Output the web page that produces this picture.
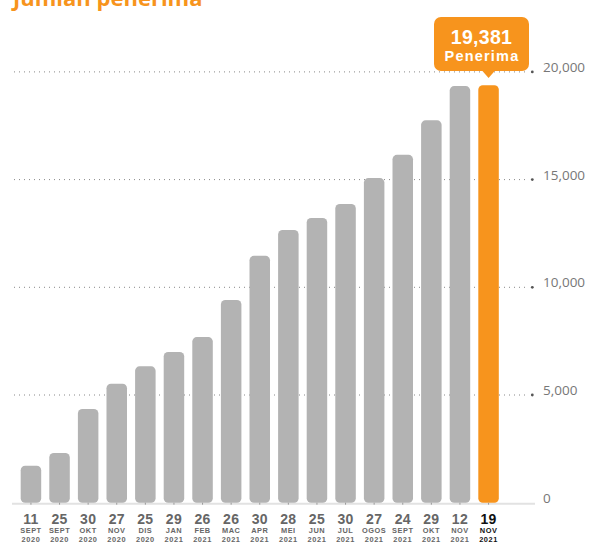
<!DOCTYPE html>
<html>
<head>
<meta charset="utf-8">
<script src="https://cdn.jsdelivr.net/npm/d3@7"></script>
<style>
  body { margin: 0; background: #fff; }
  svg { display: block; font-family: "Open Sans", sans-serif; }
</style>
</head>
<body>
<script>
const days = ["11", "25", "30", "27", "25", "29", "26", "26", "30", "28", "25", "30", "27", "24", "29", "12", "19"];
const months = ["SEPT", "SEPT", "OKT", "NOV", "DIS", "JAN", "FEB", "MAC", "APR", "MEI", "JUN", "JUL", "OGOS", "SEPT", "OKT", "NOV", "NOV"];
const years = ["2020", "2020", "2020", "2020", "2020", "2021", "2021", "2021", "2021", "2021", "2021", "2021", "2021", "2021", "2021", "2021", "2021"];
const recipients = [1720, 2310, 4350, 5520, 6330, 7000, 7690, 9410, 11460, 12660, 13220, 13870, 15070, 16150, 17750, 19340, 19381];
const yTicks = [0, 5000, 10000, 15000, 20000];

let width = 595,
  height = 547;

let data = recipients.map(function(v, i) {
  return { key: i, day: days[i], month: months[i], year: years[i], value: v };
});
let last = data.length - 1;

let x = d3
  .scaleBand()
  .domain(data.map(d => d.key))
  .range([12.6, 506.9])
  .padding(0.283);

let y = d3
  .scaleLinear()
  .domain([0, 20000])
  .range([502.7, 71.9]);

let svg = d3
  .select("body")
  .append("svg")
  .attr("width", width)
  .attr("height", height);

// title, cut off by the top edge
svg.append("text")
  .attr("x", 13)
  .attr("y", 6)
  .style("font-size", "22px")
  .style("font-weight", "700")
  .style("fill", "#f7941d")
  .text("Jumlah penerima");

// dotted gridlines
let grid = svg.selectAll(".grid")
  .data(yTicks.slice(1))
  .enter()
  .append("g")
  .attr("class", "grid");

grid.append("line")
  .attr("x1", 14)
  .attr("x2", 529)
  .attr("y1", d => y(d))
  .attr("y2", d => y(d))
  .style("stroke", "#888")
  .style("stroke-width", 1)
  .style("stroke-dasharray", "1,4");

grid.append("circle")
  .attr("cx", 532.3)
  .attr("cy", d => y(d))
  .attr("r", 1.4)
  .style("fill", "#555");

// baseline
svg.append("line")
  .attr("x1", 12)
  .attr("x2", 535)
  .attr("y1", y(0) + 1)
  .attr("y2", y(0) + 1)
  .style("stroke", "#e2e2e2")
  .style("stroke-width", 2);

// y labels on the right
svg.selectAll(".ylabel")
  .data(yTicks)
  .enter()
  .append("text")
  .attr("class", "ylabel")
  .attr("x", 543)
  .attr("y", d => y(d))
  .style("font-size", "13.5px")
  .style("fill", "#777")
  .text(d => d3.format(",")(d));

// bars
svg.selectAll(".bar")
  .data(data)
  .enter()
  .append("rect")
  .attr("class", "bar")
  .attr("x", d => x(d.key))
  .attr("y", d => y(d.value))
  .attr("width", x.bandwidth())
  .attr("height", d => y(0) - y(d.value))
  .attr("rx", 4.5)
  .style("fill", d => d.key === last ? "#f7941d" : "#b3b3b3");

// small ticks under bars
svg.selectAll(".tick")
  .data(data)
  .enter()
  .append("line")
  .attr("x1", d => x(d.key) + x.bandwidth() / 2)
  .attr("x2", d => x(d.key) + x.bandwidth() / 2)
  .attr("y1", y(0))
  .attr("y2", y(0) + 2)
  .style("stroke", "#999")
  .style("stroke-width", 1);

// x labels: day / month / year (tighter font metrics so the rows don't collide)
let xlab = svg.selectAll(".xlabel")
  .data(data)
  .enter()
  .append("g")
  .attr("class", "xlabel")
  .attr("transform", d => "translate(" + (x(d.key) + x.bandwidth() / 2) + ",0)")
  .style("text-anchor", "middle")
  .style("font-family", "'Liberation Sans', Arial, sans-serif")
  .style("font-weight", "700")
  .style("fill", d => d.key === last ? "#111" : "#666");

xlab.append("text")
  .attr("y", 523.6)
  .style("font-size", "14px")
  .style("letter-spacing", "0.3px")
  .text(d => d.day);

xlab.append("text")
  .attr("y", 533.3)
  .style("font-size", "7.4px")
  .style("letter-spacing", "0.5px")
  .text(d => d.month);

xlab.append("text")
  .attr("y", 542.2)
  .style("font-size", "7.4px")
  .style("letter-spacing", "0.6px")
  .text(d => d.year);

// callout over the last bar
let cx = x(last) + x.bandwidth() / 2;
let callout = svg.append("g")
  .attr("class", "callout")
  .style("font-family", "'Liberation Sans', Arial, sans-serif");

callout.append("rect")
  .attr("x", 434)
  .attr("y", 17)
  .attr("width", 95)
  .attr("height", 54)
  .attr("rx", 7)
  .style("fill", "#f7941d");

callout.append("path")
  .attr("d", "M" + (cx - 7) + ",70 L" + cx + ",78 L" + (cx + 7) + ",70 Z")
  .style("fill", "#f7941d");

callout.append("text")
  .attr("x", 481.5)
  .attr("y", 43.6)
  .style("text-anchor", "middle")
  .style("font-size", "19.5px")
  .style("font-weight", "700")
  .style("letter-spacing", "0.3px")
  .style("fill", "#fff")
  .text(d3.format(",")(recipients[last]));

callout.append("text")
  .attr("x", 482)
  .attr("y", 60.9)
  .style("text-anchor", "middle")
  .style("font-size", "14.5px")
  .style("font-weight", "700")
  .style("letter-spacing", "1.2px")
  .style("fill", "#fff")
  .text("Penerima");
</script>
</body>
</html>
